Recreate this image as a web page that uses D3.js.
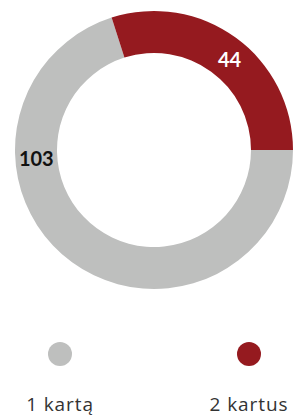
<!DOCTYPE html>
<html>
<head>
<meta charset="utf-8">
<script src="https://cdn.jsdelivr.net/npm/d3@7"></script>
<style>
  body { margin: 0; background: #fff; }
  svg { display: block; font-family: Lato, "Noto Sans", sans-serif; }
</style>
</head>
<body>
<svg id="chart" width="296" height="417"></svg>
<script>
// data
var categories = ['1 kartą', '2 kartus'];
var values = [103, 44];
var colors = ['#bebfbe', '#951a1f'];
var labelColors = ['#111111', '#ffffff'];

var width = 296, height = 417;
var cx = 154, cy = 150;
var outerR = 139, innerR = 97;

var svg = d3.select('#chart');

var pie = d3.pie()
	.sort(null)
	.startAngle(Math.PI/2)
	.endAngle(Math.PI/2 + 2*Math.PI);

var arc = d3.arc().innerRadius(innerR).outerRadius(outerR);

var slices = pie(values);

var g = svg.append('g').attr('transform', 'translate(' + cx + ',' + cy + ')');

g.selectAll('path.slice')
	.data(slices)
	.enter().append('path')
	.attr('class', 'slice')
	.attr('d', arc)
	.style('fill', function(d, i) { return colors[i]; });

// label spot: the big grey slice puts its number on the left side
function labelPos(d, i) {
	if (i === 0) {
		var a = 266 * Math.PI/180;
		var r = (innerR + outerR)/2;
		return [r*Math.sin(a), -r*Math.cos(a)];
	}
	return arc.centroid(d);
}

g.selectAll('text.val')
	.data(slices)
	.enter().append('text')
	.attr('class', 'val')
	.attr('x', function(d, i) { return labelPos(d, i)[0] + (i === 1 ? 6 : 0); })
	.attr('y', function(d, i) { return labelPos(d, i)[1] + (i === 1 ? 4 : 0); })
	.attr('text-anchor', 'middle')
	.attr('dominant-baseline', 'central')
	.style('font-size', '20px')
	.style('font-weight', 'bold')
	.style('fill', function(d, i) { return labelColors[i]; })
	.text(function(d) { return d.data; });

// legend
var legendX = d3.scalePoint().domain(categories).range([60, 249]);

var leg = svg.selectAll('g.legend')
	.data(categories)
	.enter().append('g')
	.attr('class', 'legend')
	.attr('transform', function(d) { return 'translate(' + legendX(d) + ',0)'; });

leg.append('circle')
	.attr('cx', 0)
	.attr('cy', 354)
	.attr('r', 12)
	.style('fill', function(d, i) { return colors[i]; });

leg.append('text')
	.attr('x', 0)
	.attr('y', 411)
	.attr('text-anchor', 'middle')
	.style('font-family', '"Open Sans", sans-serif')
	.style('font-size', '19px')
	.style('letter-spacing', '0.9px')
	.style('fill', '#333333')
	.text(function(d) { return d; });
</script>
</body>
</html>
